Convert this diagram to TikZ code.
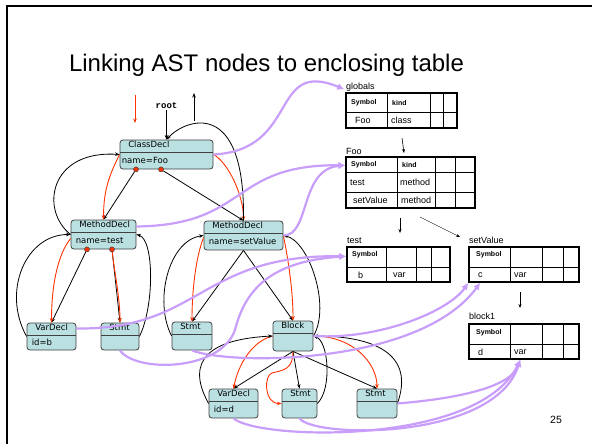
\documentclass[tikz,border=0pt]{standalone}
\usepackage{fontspec}
\setmainfont{Liberation Sans}
\setmonofont{Liberation Mono}
\newfontfamily\astfont{DejaVu Sans}
\usetikzlibrary{calc,arrows.meta}

\definecolor{astfill}{RGB}{186,224,226}
\definecolor{astline}{RGB}{64,64,64}
\definecolor{firstred}{RGB}{255,51,0}
\definecolor{linkpurple}{RGB}{200,158,250}

\tikzset{
  astbox/.style={draw=astline, fill=astfill, rounded corners=3pt, line width=.8pt, inner sep=0pt, minimum height=29pt,
    path picture={\draw[astline, line width=.8pt] ([yshift=-12pt]path picture bounding box.north west) -- ([yshift=-12pt]path picture bounding box.north east);}},
  asthead/.style={anchor=north west, xshift=7pt, inner sep=1.5pt, font=\astfont\fontsize{8.5}{9}\selectfont},
  astbody/.style={anchor=west, xshift=4pt, yshift=-6pt, inner sep=1pt, font=\astfont\fontsize{8.5}{9}\selectfont},
  refdot/.style={circle, draw=astline, fill=firstred, line width=.5pt, inner sep=0pt, minimum size=5pt},
  childln/.style={line width=.8pt, -{Stealth[length=4.5pt,width=3.5pt]}},
  parentln/.style={line width=.8pt, -{Stealth[length=4.5pt,width=3.5pt]}},
  redarr/.style={firstred, line width=.9pt, -{Stealth[length=4.5pt,width=3.5pt]}},
  linkarr/.style={linkpurple, line width=2.2pt, -{Latex[length=7pt,width=7pt]}},
  symtab/.style={draw, line width=1.4pt, inner sep=0pt},
  tabgrid/.style={line width=.7pt},
  tabarr/.style={line width=.6pt, -{Stealth[length=4pt,width=3pt]}},
  cellhead/.style={anchor=west, inner sep=0pt, font=\bfseries\fontsize{7}{8}\selectfont},
  celltext/.style={anchor=west, inner sep=0pt, font=\fontsize{9}{10}\selectfont},
  tablabel/.style={anchor=base west, inner sep=0pt, font=\fontsize{9}{10}\selectfont}
}

\begin{document}
\begin{tikzpicture}[x=1pt,y=-1pt]
  \useasboundingbox (0,0) rectangle (592,444);
  \draw[line width=2pt] (7,444) -- (7,6) -- (592,6);
  \node[font=\fontsize{24}{28}\selectfont, anchor=base] (title) at (266.5,72) {Linking AST nodes to enclosing table};

  % AST
  \node[astbox, minimum width=93pt, label={[asthead]north west:ClassDecl}, label={[astbody, xshift=-3pt]west:{name=Foo}}] (cd) at (166.5,154.5) {};
  \node[astbox, minimum width=65pt, label={[asthead]north west:MethodDecl}, label={[astbody]west:{name=test}}] (mdt) at (103.5,234.5) {};
  \node[astbox, minimum width=79pt, label={[asthead]north west:MethodDecl}, label={[astbody]west:{name=setValue}}] (mds) at (243.5,235.5) {};
  \node[astbox, minimum width=49pt, minimum height=27pt, label={[asthead]north west:VarDecl}, label={[astbody]west:{id=b}}] (vdb) at (51.5,336.5) {};
  \node[astbox, minimum width=38pt, minimum height=27pt, label={[asthead]north west:Stmt}] (sta) at (120,336.5) {};
  \node[astbox, minimum width=40pt, minimum height=28pt, label={[asthead]north west:Stmt}] (stb) at (192,336) {};
  \node[astbox, minimum width=40pt, minimum height=30pt, label={[asthead]north west:Block}] (blk) at (293,336) {};
  \node[astbox, minimum width=49pt, label={[asthead]north west:VarDecl}, label={[astbody]west:{id=d}}] (vdd) at (233.5,403.5) {};
  \node[astbox, minimum width=35pt, label={[asthead]north west:Stmt}] (stc) at (299.5,403.5) {};
  \node[astbox, minimum width=40pt, label={[asthead]north west:Stmt}] (std) at (377,403.5) {};

  \node[refdot] (cdd1) at ($(cd.south)+(-30.5,0)$) {};
  \node[refdot] (cdd2) at ($(cd.south)+(-5.5,0)$) {};
  \node[refdot] (mdd1) at ($(mdt.south)+(-16.5,0)$) {};
  \node[refdot] (mdd2) at ($(mdt.south)+(8.5,0)$) {};

  % root
  \coordinate (redin1) at (135,95);
  \coordinate (redin2) at (135,123);
  \coordinate (up1) at (194,121);
  \coordinate (up2) at (194,93);
  \node[font=\ttfamily\bfseries\fontsize{9}{10}\selectfont, inner sep=1pt] (rootlbl) at (166.5,106) {root};
  \draw[redarr] (redin1) -- (redin2);
  \draw[childln] (up1) -- (up2);
  \draw[childln] (rootlbl) -- (cd.north);

  % ClassDecl
  \draw[childln] (cdd1) -- (mdt.north);
  \draw[childln] (cdd2) -- (mds.north);
  \draw[redarr] (cd.west) .. controls +(-10,20) and +(0,-30) .. (mdt.north);
  \draw[redarr] (cd.east) .. controls +(15,8) and +(0,-25) .. (mds.north);
  \draw[parentln] (mdt.west) .. controls +(-31,-24.5) and +(-70,-4.5) .. (cd.west);
  \draw[parentln] (mds.north) .. controls +(2,-125) and +(18,-20) .. (cd.north);

  % MethodDecl test
  \draw[childln] (mdd1) -- (vdb.north);
  \draw[childln] (mdd2) -- (sta.north);
  \draw[redarr] ($(mdt.west)+(0,4)$) .. controls +(-12,15) and +(0,-40) .. (vdb.north);
  \draw[redarr] (mdd2) .. controls +(2,20) and +(0,-25) .. (sta.north);
  \draw[parentln] (vdb.west) .. controls +(-25,-45) and +(-45,0) .. (mdt.west);
  \draw[parentln] (sta.east) .. controls +(15,-30) and +(18,5) .. (mdt.east);

  % MethodDecl setValue
  \draw[childln] (mds.south) -- (stb.north);
  \draw[childln] (mds.south) -- (blk.north);
  \draw[redarr] ($(mds.west)+(0,2)$) .. controls +(-8,20) and +(0,-30) .. (stb.north);
  \draw[redarr] (mds.east) .. controls +(5,25) and +(0,-30) .. (blk.north);
  \draw[parentln] (stb.west) .. controls +(-18,-35) and +(-35,5) .. (mds.west);
  \draw[parentln] (blk.east) .. controls +(18,-30) and +(25,5) .. (mds.east);

  % Block
  \draw[childln] (blk.south) -- (vdd.north);
  \draw[childln] (blk.south) -- (stc.north);
  \draw[childln] (blk.south) -- (std.north);
  \draw[redarr] (blk.west) .. controls +(-20,5) and +(5,-25) .. (vdd.north);
  \draw[redarr] (blk.south) .. controls +(0,18) and +(12,-3) .. (272,373) .. controls +(-8,2) and +(-18,0) .. (stc.west);
  \draw[redarr] (blk.east) .. controls +(40,0) and +(0,-25) .. (std.north);
  \draw[parentln] (vdd.west) .. controls +(-25,-45) and +(-60,3) .. (blk.west);
  \draw[parentln] (stc.east) .. controls +(15,-15) and +(15,5) .. (blk.east);
  \draw[parentln] (std.east) .. controls +(18,-50) and +(60,0) .. (blk.east);

  % tables
  \node[symtab, minimum width=111pt, minimum height=35pt] (globtab) at (401.5,110.5) {};
  \draw[tabgrid] (346,112) -- (457,112) (387,93) -- (387,128) (430,93) -- (430,128) (443,93) -- (443,128);
  \node[tablabel] (globlbl) at (346,89) {globals};
  \node[cellhead] (gsym) at (351,102.5) {Symbol};
  \node[cellhead] (gkind) at (392,102.5) {kind};
  \node[celltext] (gfoo) at (355,120.5) {Foo};
  \node[celltext] (gclass) at (391,120.5) {class};

  \node[symtab, minimum width=129pt, minimum height=51pt] (footab) at (410.5,182.5) {};
  \draw[tabgrid] (346,172) -- (475,172) (346,192) -- (475,192) (397,157) -- (397,208) (435,157) -- (435,208) (455,157) -- (455,208);
  \node[tablabel] (foolbl) at (346,154) {Foo};
  \node[cellhead] (fsym) at (351,164.5) {Symbol};
  \node[cellhead] (fkind) at (402,164.5) {kind};
  \node[celltext] (ftest) at (350,182.5) {test};
  \node[celltext] (fmeth1) at (400,182.5) {method};
  \node[celltext] (fsetv) at (353,200.5) {setValue};
  \node[celltext] (fmeth2) at (401,200.5) {method};

  \node[symtab, minimum width=103pt, minimum height=35pt] (testtab) at (398.5,264.5) {};
  \draw[tabgrid] (347,267) -- (450,267) (386,247) -- (386,282) (416,247) -- (416,282) (431,247) -- (431,282);
  \node[tablabel] (testlbl) at (347,243) {test};
  \node[cellhead] (tsym) at (352,255) {Symbol};
  \node[celltext] (tb) at (358,275) {b};
  \node[celltext] (tvar) at (393,275) {var};

  \node[symtab, minimum width=110pt, minimum height=35pt] (svtab) at (524,264.5) {};
  \draw[tabgrid] (469,267) -- (579,267) (510,247) -- (510,282) (542,247) -- (542,282) (563,247) -- (563,282);
  \node[tablabel] (svlbl) at (469,243) {setValue};
  \node[cellhead] (ssym) at (476,255) {Symbol};
  \node[celltext] (sc) at (478,275) {c};
  \node[celltext] (svar) at (514,275) {var};

  \node[symtab, minimum width=110pt, minimum height=35pt] (b1tab) at (524,341.5) {};
  \draw[tabgrid] (469,344) -- (579,344) (510,324) -- (510,359) (542,324) -- (542,359) (563,324) -- (563,359);
  \node[tablabel] (b1lbl) at (469,319) {block1};
  \node[cellhead] (bsym) at (476,333) {Symbol};
  \node[celltext] (bd) at (478,352) {d};
  \node[celltext] (bvar) at (514,352) {var};

  \coordinate (gf1) at (402,138);
  \coordinate (gf2) at (404,153);
  \coordinate (ft1) at (400,218);
  \coordinate (ft2) at (400,233);
  \coordinate (fs1) at (420,217);
  \coordinate (fs2) at (460,237);
  \coordinate (sb1) at (520,292);
  \coordinate (sb2) at (520,308);
  \draw[tabarr] (gf1) -- (gf2);
  \draw[tabarr] (ft1) -- (ft2);
  \draw[tabarr, line width=.4pt] (fs1) -- (fs2);
  \draw[tabarr] (sb1) -- (sb2);

  % links to enclosing table
  \draw[linkarr] (cd.east) .. controls +(87,-4.5) and +(-75,-31) .. ($(globtab.north west)+(-1,-3)$);
  \draw[linkarr] ($(mdt.east)+(0,-8)$) .. controls +(113,-1.5) and +(-116,-1) .. ($(footab.north west)+(0,9)$);
  \draw[linkarr] (mds.east) .. controls +(27,0) and +(-46,4) .. ($(footab.north west)+(0,9)$);
  \draw[linkarr] ($(vdb.east)+(0,-8)$) .. controls +(124,1.5) and +(-146,-2) .. ($(testtab.north west)+(0,10)$);
  \draw[linkarr] (sta.south) .. controls +(15,22) and +(-15,42) .. (235,330) .. controls +(10,-40) and +(-76,5) .. ($(testtab.north west)+(0,10)$);
  \draw[linkarr] (stb.south) .. controls +(38,15) and +(-61,83) .. ($(svtab.south west)+(12,0)$);
  \draw[linkarr] (blk.east) .. controls +(67,4) and +(-19,28) .. (svtab.south west);
  \draw[linkarr] (std.east) .. controls +(43,-3.5) and +(-11,31) .. ($(b1tab.south west)+(52,0)$);
  \draw[linkarr] (vdd.south) .. controls +(26,22) and +(-41,86) .. ($(b1tab.south west)+(52,0)$);
  \draw[linkarr] (stc.south) .. controls +(15,20) and +(-26,81) .. ($(b1tab.south west)+(52,0)$);

  \node[font=\fontsize{10.5}{12}\selectfont] (pgnum) at (556,420) {25};
\end{tikzpicture}
\end{document}
